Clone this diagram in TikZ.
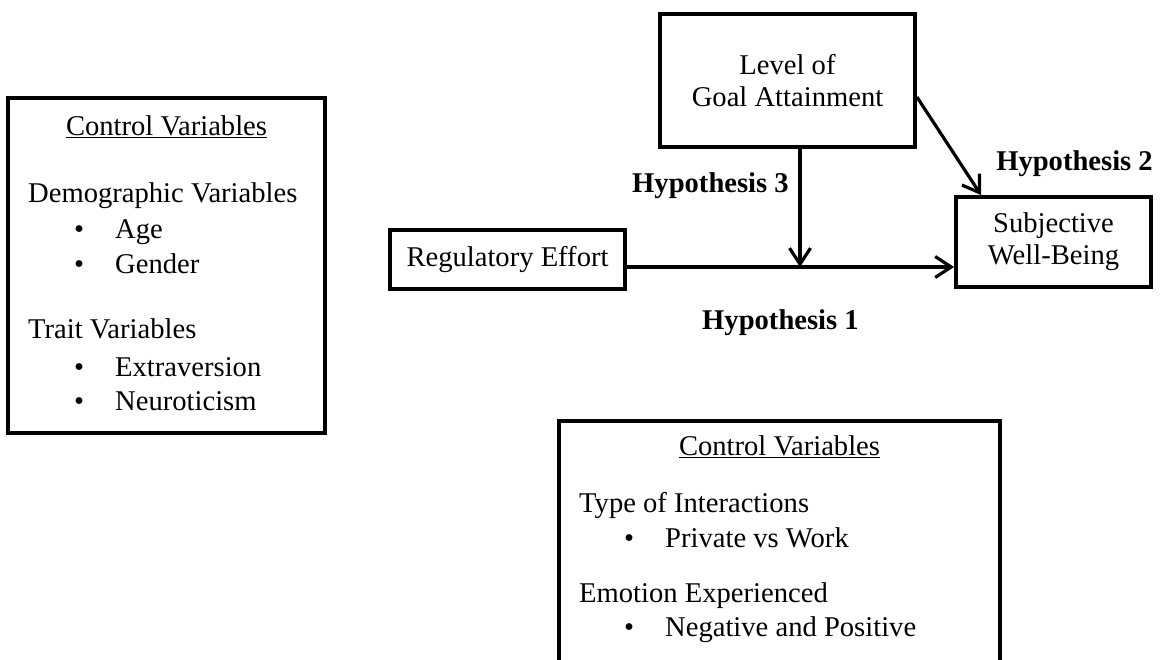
\documentclass[tikz,border=0pt]{standalone}
\usepackage{fontspec}
\setmainfont{Liberation Serif}
\usetikzlibrary{
  arrows.meta,
  calc,
}
\tikzset{
  >={Straight Barb[length=16pt,width=21pt]},
  varbox/.style={draw,rectangle,line width=3.8pt,inner sep=0pt},
  conn/.style={->,line width=3.2pt},
  txt/.style={inner sep=0pt,font=\fontsize{28.6}{32}\selectfont},
  hyp/.style={txt,anchor=base,font=\fontsize{28.6}{32}\selectfont\bfseries},
  head/.style={txt,anchor=base west},
  item/.style={txt,anchor=base west},
}
\newcommand{\itembullet}{\makebox[41pt][l]{\textbullet}}

\begin{document}
\begin{tikzpicture}[x=1pt,y=-1pt]
        \useasboundingbox (0,0) rectangle (1166,659);
        \clip (0,0) rectangle (1166,659);

        \node[varbox,minimum width=317,minimum height=335] (ctrlperson) at (166.5,265.5) {};
        \node[txt,anchor=base] (ctrlpersonhead) at (166.5,135) {\underline{Control Variables}};
        \node[head] (demog) at (28,202) {Demographic Variables};
        \node[item] (age) at (74,238) {\itembullet Age};
        \node[item] (gender) at (74,273) {\itembullet Gender};
        \node[head] (trait) at (28,338) {Trait Variables};
        \node[item] (extra) at (74,376) {\itembullet Extraversion};
        \node[item] (neuro) at (74,410) {\itembullet Neuroticism};

        \node[varbox,txt,align=center,minimum width=255,minimum height=133] (goal) at (787.5,80.5) {Level of\\Goal Attainment};
        \node[varbox,txt,minimum width=235,minimum height=59] (reg) at (507.5,259.5) {Regulatory Effort};
        \node[varbox,txt,align=center,minimum width=195,minimum height=90] (swb) at (1053.5,242) {Subjective\\Well-Being};

        \coordinate (hub) at (800,267);
        \draw[conn] (reg.east |- hub) -- (swb.west |- hub);
        \draw[conn] (goal.south -| hub) -- (hub);
        \draw[conn] ([yshift=-16.5pt]goal.east) -- ([xshift=27pt]swb.north west);

        \node[hyp] (hyp3) at (710.5,192) {Hypothesis 3};
        \node[hyp] (hyp1) at (780.5,329) {Hypothesis 1};
        \node[hyp] (hyp2) at (1074.5,170) {Hypothesis 2};

        \node[varbox,minimum width=441,minimum height=299] (ctrlsit) at (779.5,570.5) {};
        \node[txt,anchor=base] (ctrlsithead) at (779.5,455) {\underline{Control Variables}};
        \node[head] (inter) at (579,512) {Type of Interactions};
        \node[item] (privwork) at (624,547) {\itembullet Private vs Work};
        \node[head] (emo) at (579,602) {Emotion Experienced};
        \node[item] (negpos) at (624,636) {\itembullet Negative and Positive};
    \end{tikzpicture}
\end{document}
